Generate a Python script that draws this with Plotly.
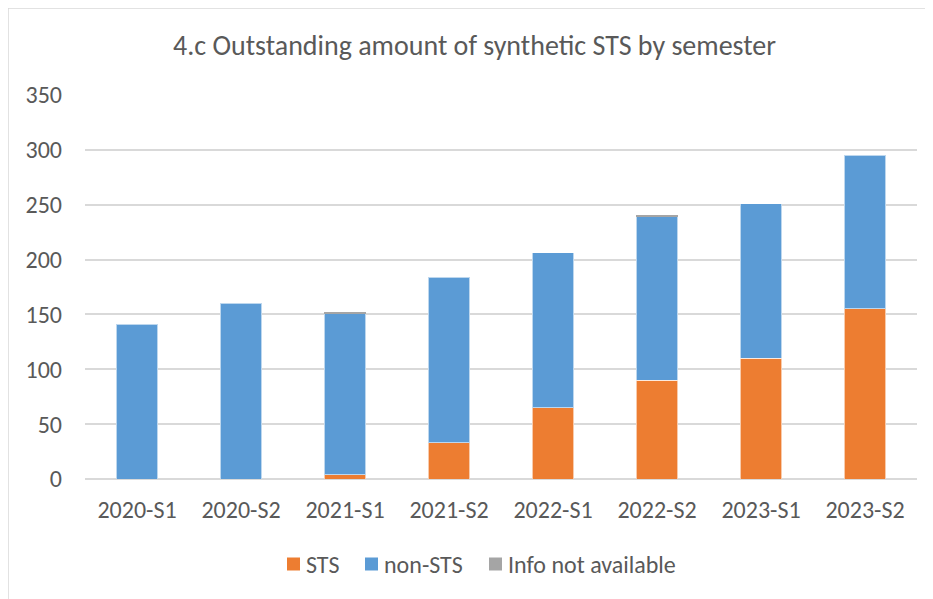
import plotly.graph_objects as go

categories = ["2020-S1", "2020-S2", "2021-S1", "2021-S2", "2022-S1", "2022-S2", "2023-S1", "2023-S2"]
sts = [0, 0, 4, 33, 65, 90, 110, 155]
non_sts = [141, 160, 147, 151, 141, 149, 141, 140]
info_na = [0, 0, 0.8, 0, 0, 0.8, 0, 0]
y_ticks = [0, 50, 100, 150, 200, 250, 300, 350]
series_names = ["STS", "non-STS", "Info not available"]
series_colors = ["#ED7D31", "#5B9BD5", "#A5A5A5"]

# body margin offset of 8px in page
OFF = 8
W, H = 933, 599
L, R, T, B = 85 - OFF, W - (917 - OFF), 95 - OFF, H - (479 - OFF)
pw, ph = W - L - R, H - T - B

font_family = "Carlito, Calibri, 'Open Sans', 'Liberation Sans', sans-serif"
txt = "#595959"

fig = go.Figure()
for name, vals, col in zip(series_names, [sts, non_sts, info_na], series_colors):
    fig.add_trace(go.Bar(x=categories, y=vals, name=name,
                         marker=dict(color=col, line=dict(color="rgba(255,255,255,0.6)", width=1 if name != "Info not available" else 0))))

def px_x(p):
    return (p - OFF - L) / pw

def px_y(p):
    return (H - B - (p - OFF)) / ph

shapes = [
    dict(type="line", xref="paper", yref="paper", x0=px_x(8), x1=px_x(8), y0=px_y(8), y1=px_y(H + 20),
         line=dict(color="#D9D9D9", width=1.5)),
    dict(type="line", xref="paper", yref="paper", x0=px_x(8), x1=px_x(W + 20), y0=px_y(8), y1=px_y(8),
         line=dict(color="#D9D9D9", width=1.5)),
]
annotations = []
legend_sq_x = [287, 365, 489]
leg_y = 564
for name, col, sx in zip(series_names, series_colors, legend_sq_x):
    shapes.append(dict(type="rect", xref="paper", yref="paper", x0=px_x(sx), x1=px_x(sx + 13),
                       y0=px_y(leg_y - 6.5), y1=px_y(leg_y + 6.5), fillcolor=col, line=dict(width=0)))
    annotations.append(dict(xref="paper", yref="paper", x=px_x(sx + 17), y=px_y(leg_y), text=name,
                            showarrow=False, xanchor="left", yanchor="middle",
                            font=dict(size=24, color=txt)))

fig.update_layout(
    width=W, height=H,
    barmode="stack", bargap=0.6,
    margin=dict(l=L, r=R, t=T, b=B),
    paper_bgcolor="white", plot_bgcolor="white",
    font=dict(family=font_family, color=txt, size=24),
    title=dict(text="4.c Outstanding amount of synthetic STS by semester", x=0.5, xanchor="center",
               y=1 - (45 - OFF) / H, yanchor="middle", font=dict(size=28, color=txt)),
    xaxis=dict(showgrid=False, showline=False, ticks="", tickfont=dict(size=24, color=txt), ticklabelstandoff=14),
    yaxis=dict(range=[0, 350], tickvals=y_ticks, showgrid=True, gridcolor="#D9D9D9", gridwidth=1.5,
               zeroline=True, zerolinecolor="#D9D9D9", zerolinewidth=1.5,
               tickfont=dict(size=24, color=txt), ticklabelstandoff=22, showline=False, ticks=""),
    showlegend=False,
    shapes=shapes,
    annotations=annotations,
)

fig.write_html("out.html")
